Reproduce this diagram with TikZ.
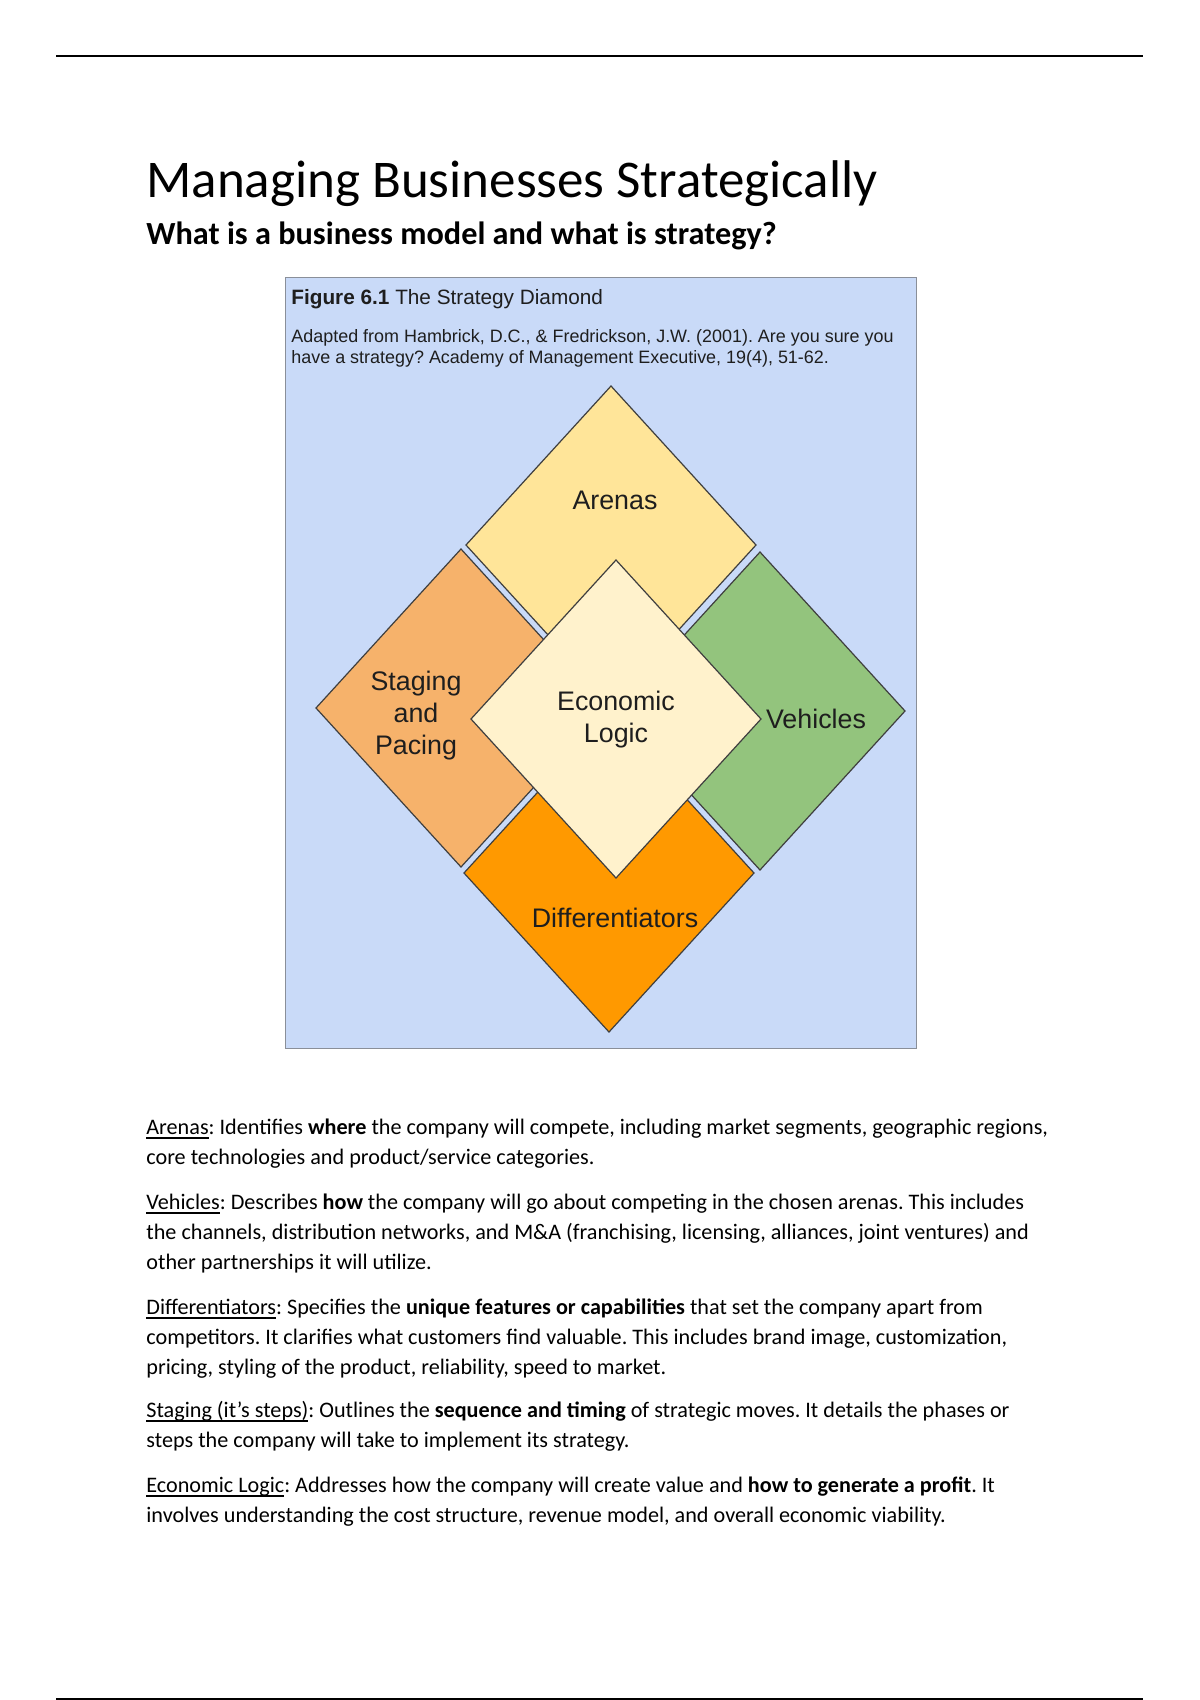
\documentclass[tikz,border=0pt]{standalone}
\usepackage{fontspec}
\setmainfont{Carlito}
\newfontfamily\arialf{Liberation Sans}
\usetikzlibrary{shapes.geometric}
\definecolor{figbg}{HTML}{C9DAF8}
\definecolor{figedge}{HTML}{8A8F99}
\definecolor{arenacol}{HTML}{FFE599}
\definecolor{stagecol}{HTML}{F6B26B}
\definecolor{vehcol}{HTML}{93C47D}
\definecolor{diffcol}{HTML}{FF9900}
\definecolor{centcol}{HTML}{FFF2CC}
\definecolor{diaedge}{HTML}{3F3F3F}
\definecolor{labtext}{HTML}{1E1E1E}
\newsavebox\ulbox
\newcommand{\uln}[1]{\sbox\ulbox{#1}\rlap{\rule[-2.3pt]{\wd\ulbox}{1.0pt}}\usebox\ulbox}
\tikzset{
  dia/.style={diamond, draw=diaedge, line width=0.6pt, inner sep=0pt, outer sep=0pt,
    minimum width=143.86pt, minimum height=157.75pt},
  dlabel/.style={font=\arialf\fontsize{13.3}{16.1}\selectfont, text=labtext, inner sep=0pt, anchor=base},
  para/.style={font=\fontsize{11}{15.1}\selectfont, inner sep=0pt, anchor=base west}
}
\frenchspacing
\begin{document}
\begin{tikzpicture}[x=0.49606pt, y=-0.49606pt]
\useasboundingbox (0,0) rectangle (1200,1700);
\fill[white] (0,0) rectangle (1200,1700);
% page rules
\draw[line width=1pt] (56,56) -- (1143,56);
\draw[line width=1pt] (56,1698.5) -- (1143,1698.5);
% headings
\node[inner sep=0pt, anchor=base west, font=\fontsize{26.3}{30}\selectfont] (title) at (146,197) {Managing Businesses Strategically};
\node[inner sep=0pt, anchor=base west, font=\bfseries\fontsize{16}{19}\selectfont] (subtitle) at (146,244) {What is a business model and what is strategy?};
% figure box
\node[draw=figedge, fill=figbg, line width=0.7pt, inner sep=0pt, minimum width=313pt, minimum height=382.5pt, anchor=north west] (figbox) at (285,277) {};
\node[inner sep=0pt, anchor=base west, font=\arialf\fontsize{10.3}{12}\selectfont, text=labtext] (cap) at (291,304) {\textbf{Figure 6.1} The Strategy Diamond};
\node[inner sep=0pt, anchor=base west, font=\arialf\fontsize{8.9}{10.8}\selectfont, text=labtext] (cite) at (291,342)
  {\begin{tabular}[t]{@{}l@{}}Adapted from Hambrick, D.C., \& Fredrickson, J.W. (2001). Are you sure you\\have a strategy? Academy of Management Executive, 19(4), 51-62.\end{tabular}};
% diamonds
\node[dia, fill=arenacol] (arena) at (611,545) {};
\node[dia, fill=stagecol] (stage) at (461,708) {};
\node[dia, fill=vehcol] (veh) at (760,711) {};
\node[dia, fill=diffcol] (diff) at (609,873) {};
\node[dia, fill=centcol] (cent) at (616,719) {};
% labels
\node[dlabel] (larena) at (615,509) {Arenas};
\node[dlabel] (lstage) at (416,690) {\begin{tabular}[t]{@{}c@{}}Staging\\and\\Pacing\end{tabular}};
\node[dlabel] (lcent) at (616,710) {\begin{tabular}[t]{@{}c@{}}Economic\\Logic\end{tabular}};
\node[dlabel] (lveh) at (816,728) {Vehicles};
\node[dlabel] (ldiff) at (615,927) {Differentiators};
% body text
\node[para] (p1) at (146,1134) {\begin{tabular}[t]{@{}l@{}}\uln{Arenas}: Identifies \textbf{where} the company will compete, including market segments, geographic regions,\\core technologies and product/service categories.\end{tabular}};
\node[para] (p2) at (146,1209) {\begin{tabular}[t]{@{}l@{}}\uln{Vehicles}: Describes \textbf{how} the company will go about competing in the chosen arenas. This includes\\the channels, distribution networks, and M\&A (franchising, licensing, alliances, joint ventures) and\\other partnerships it will utilize.\end{tabular}};
\node[para] (p3) at (146,1314) {\begin{tabular}[t]{@{}l@{}}\uln{Differentiators}: Specifies the \textbf{unique features or capabilities} that set the company apart from\\competitors. It clarifies what customers find valuable. This includes brand image, customization,\\pricing, styling of the product, reliability, speed to market.\end{tabular}};
\node[para] (p4) at (146,1417) {\begin{tabular}[t]{@{}l@{}}\uln{Staging (it’s steps)}: Outlines the \textbf{sequence and timing} of strategic moves. It details the phases or\\steps the company will take to implement its strategy.\end{tabular}};
\node[para] (p5) at (146,1492) {\begin{tabular}[t]{@{}l@{}}\uln{Economic Logic}: Addresses how the company will create value and \textbf{how to generate a profit}. It\\involves understanding the cost structure, revenue model, and overall economic viability.\end{tabular}};
\end{tikzpicture}
\end{document}
